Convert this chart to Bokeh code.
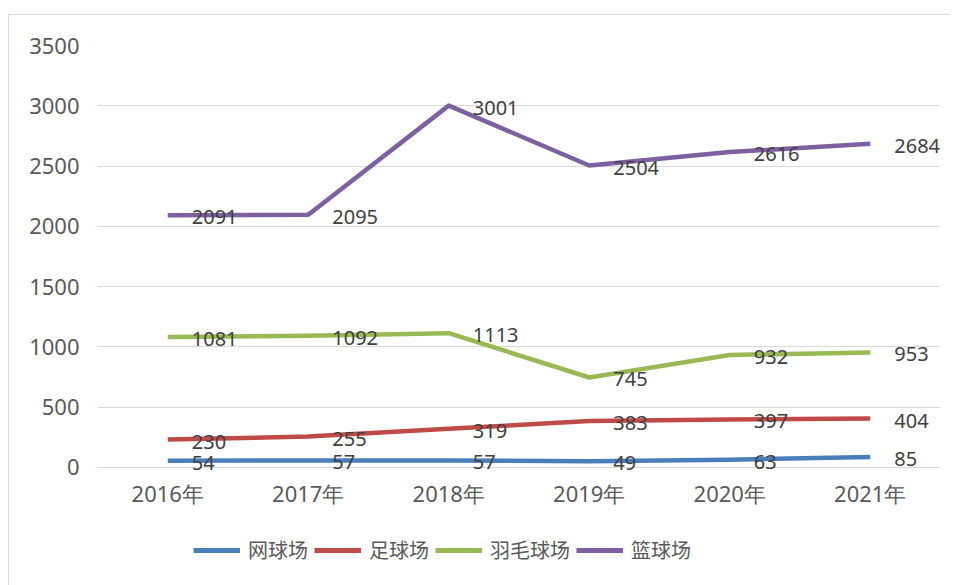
from bokeh.plotting import figure
from bokeh.models import FixedTicker, Range1d, FactorRange, Legend, LegendItem, ColumnDataSource
from bokeh.layouts import column
from bokeh.embed import file_html
from bokeh.resources import INLINE

years = ["2016年", "2017年", "2018年", "2019年", "2020年", "2021年"]
tennis = [54, 57, 57, 49, 63, 85]
football = [230, 255, 319, 383, 397, 404]
badminton = [1081, 1092, 1113, 745, 932, 953]
basketball = [2091, 2095, 3001, 2504, 2616, 2684]
series_names = ["网球场", "足球场", "羽毛球场", "篮球场"]
series_values = [tennis, football, badminton, basketball]
colors = ["#4a7ebb", "#be4b48", "#98b954", "#7d60a0"]
y_ticks = [0, 500, 1000, 1500, 2000, 2500, 3000, 3500]

FONT = "Noto Sans"
p = figure(x_range=FactorRange(*years), y_range=Range1d(-60, 3500), width=941, height=505,
           output_backend="svg", toolbar_location=None,
           min_border_left=88, min_border_right=10, min_border_top=30, min_border_bottom=46)
p.outline_line_color = None
p.background_fill_color = "white"
p.border_fill_color = "white"

p.yaxis.ticker = FixedTicker(ticks=y_ticks)
for ax in (p.xaxis, p.yaxis):
    ax.axis_line_color = None
    ax.major_tick_line_color = None
    ax.minor_tick_line_color = None
    ax.major_label_text_font = FONT
    ax.major_label_text_font_size = "22px"
    ax.major_label_text_color = "#595959"
p.yaxis.major_label_standoff = 12
p.xaxis.major_label_standoff = -3
p.xgrid.grid_line_color = None
p.ygrid.grid_line_color = "#d9d9d9"
p.ygrid.grid_line_width = 1

for name, vals, c in zip(series_names, series_values, colors):
    src = ColumnDataSource(dict(x=years, y=vals, t=[str(v) for v in vals]))
    p.line("x", "y", source=src, line_color=c, line_width=4.5, line_join="round")
for name, vals, c in zip(series_names, series_values, colors):
    src = ColumnDataSource(dict(x=years, y=vals, t=[str(v) for v in vals]))
    p.text("x", "y", text="t", source=src, x_offset=24, y_offset=2,
           text_align="left", text_baseline="middle",
           text_font_size="20px", text_color="#404040",
           text_font={"value": FONT})

# legend strip below the chart
lf = figure(x_range=FactorRange(*years), y_range=Range1d(10000, 10001), width=941, height=65,
            output_backend="svg", toolbar_location=None,
            x_axis_location=None, y_axis_location=None,
            min_border_left=0, min_border_right=0, min_border_top=0, min_border_bottom=0)
lf.outline_line_color = None
lf.xgrid.grid_line_color = None
lf.ygrid.grid_line_color = None
items = []
for name, vals, c in zip(series_names, series_values, colors):
    src = ColumnDataSource(dict(x=years, y=vals))
    r = lf.line("x", "y", source=src, line_color=c, line_width=5)
    items.append(LegendItem(label=name, renderers=[r]))
legend = Legend(items=items, orientation="horizontal", location=(96, 21))
legend.label_text_font = "Noto Sans CJK SC"
legend.label_text_font_size = "20px"
legend.label_text_color = "#595959"
legend.glyph_width = 47
legend.label_standoff = 8
legend.spacing = 6
legend.border_line_color = None
legend.background_fill_alpha = 0
legend.margin = 0
legend.padding = 4
lf.add_layout(legend)

layout = column(p, lf, spacing=0, margin=(14, 0, 0, 8),
                styles={"border-top": "1px solid #d9d9d9", "border-left": "1px solid #d9d9d9"})

open("out.html", "w").write(file_html(layout, INLINE))
